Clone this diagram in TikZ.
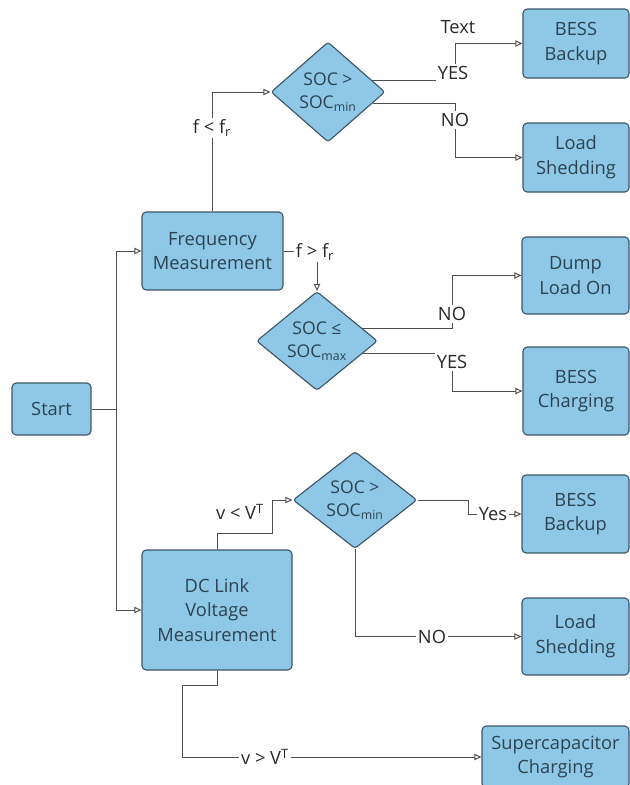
\documentclass[tikz,border=0pt]{standalone}
\usepackage{fontspec}
\setmainfont{Open Sans}
\usetikzlibrary{shapes.geometric, arrows.meta, backgrounds}

\definecolor{boxfill}{RGB}{142,200,230}
\definecolor{boxline}{RGB}{62,86,102}
\definecolor{boxtext}{RGB}{45,66,82}
\definecolor{linecol}{RGB}{80,80,80}
\definecolor{labeltext}{RGB}{40,40,40}

\def\u{0.025cm}

\begin{document}
\begin{tikzpicture}[
  x=0.025cm, y=-0.025cm,
  every node/.style={font=\fontsize{13}{17.5}\selectfont},
  box/.style={draw=boxline, fill=boxfill, rounded corners=3pt, align=center,
              text=boxtext, inner sep=2pt, line width=0.8pt},
  decision/.style={diamond, draw=boxline, fill=boxfill, rounded corners=2pt,
              align=center, text=boxtext, inner sep=0pt, line width=0.8pt,
              font=\fontsize{12.5}{16.5}\selectfont},
  wire/.style={draw=linecol, line width=0.7pt},
  arr/.style={wire, -{Triangle[open, length=5pt, width=4.5pt]}},
  lbl/.style={fill=white, inner sep=1.5pt, text=labeltext},
]
\useasboundingbox (0,0) rectangle (630,785);

% process boxes
\node[box, minimum width=79*\u,  minimum height=52*\u]  (start) at (51.5,409)  {Start};
\node[box, minimum width=141*\u, minimum height=78*\u]  (freq)  at (212.5,251) {Frequency\\Measurement};
\node[box, minimum width=150*\u, minimum height=120*\u] (dc)    at (217,610)   {DC Link\\Voltage\\Measurement};

\node[box, minimum width=106*\u, minimum height=69*\u] (bb1) at (576,43.5)   {BESS\\Backup};
\node[box, minimum width=106*\u, minimum height=69*\u] (ls1) at (576,157.5)  {Load\\Shedding};
\node[box, minimum width=107*\u, minimum height=77*\u] (dl)  at (575.5,275.5){Dump\\Load On};
\node[box, minimum width=106*\u, minimum height=88*\u] (bc)  at (576,391)    {BESS\\Charging};
\node[box, minimum width=107*\u, minimum height=78*\u] (bb3) at (575.5,514)  {BESS\\Backup};
\node[box, minimum width=107*\u, minimum height=77*\u] (ls3) at (575.5,636.5){Load\\Shedding};
\node[box, inner sep=1pt, minimum width=147*\u, minimum height=62*\u] (sc) at (555.5,757) {Supercapacitor\\Charging};

% decisions
\node[decision, minimum width=114*\u, minimum height=100*\u] (d1) at (328,92)  {SOC >\\SOC\textsubscript{min}};
\node[decision, minimum width=121*\u, minimum height=99*\u]  (d2) at (317,341) {SOC ≤\\SOC\textsubscript{max}};
\node[decision, minimum width=124*\u, minimum height=97*\u]  (d3) at (355,500) {SOC >\\SOC\textsubscript{min}};

% routing points
\coordinate (tr) at (116,409);
\coordinate (j1) at (455,0);
\coordinate (j2) at (452,0);
\coordinate (j3) at (272,533);
\coordinate (j4) at (182,685);
\coordinate (j5) at (468,0);

% edge labels
\node[lbl] (lfl)   at (212,128) {f < f\textsubscript{r}};
\node[lbl] (lyes1) at (453,73)  {YES};
\node[lbl] (lno1)  at (455,120) {NO};
\node[lbl] (lfg)   at (315,252) {f > f\textsubscript{r}};
\node[lbl] (lno2)  at (452,314) {NO};
\node[lbl] (lyes2) at (452,362) {YES};
\node[lbl] (lvl)   at (240,512) {v < V\textsuperscript{T}};
\node[lbl] (lyes3) at (493,514) {Yes};
\node[lbl] (lno3)  at (432,637) {NO};
\node[lbl] (lvg)   at (265,757) {v > V\textsuperscript{T}};
\node[text=labeltext] (txt) at (458,27) {Text};

% connectors, kept behind the labels
\begin{scope}[on background layer]
  \draw[wire] (start.east) -- (tr);
  \draw[arr] (tr) |- (freq.west);
  \draw[arr] (tr) |- (dc.west);

  \draw[arr] (freq.north) |- (d1.west);
  \draw[arr] (d1.15) -| (bb1.west -| j1) -- (bb1.west);
  \draw[arr] (d1.-14) -| (ls1.west -| j1) -- (ls1.west);

  \draw[arr] (freq.east) -| (d2.north);
  \draw[arr] (d2.16) -| (dl.west -| j2) -- (dl.west);
  \draw[arr] (d2.-15) -| (bc.west -| j2) -- (bc.west);

  \draw[arr] (dc.north) |- (j3) |- (d3.west);
  \draw[arr] (d3.east) -| (bb3.west -| j5) -- (bb3.west);
  \draw[arr] (d3.south) |- (ls3.west);

  \draw[arr] (dc.south) |- (j4) |- (sc.west);
\end{scope}
\end{tikzpicture}
\end{document}
